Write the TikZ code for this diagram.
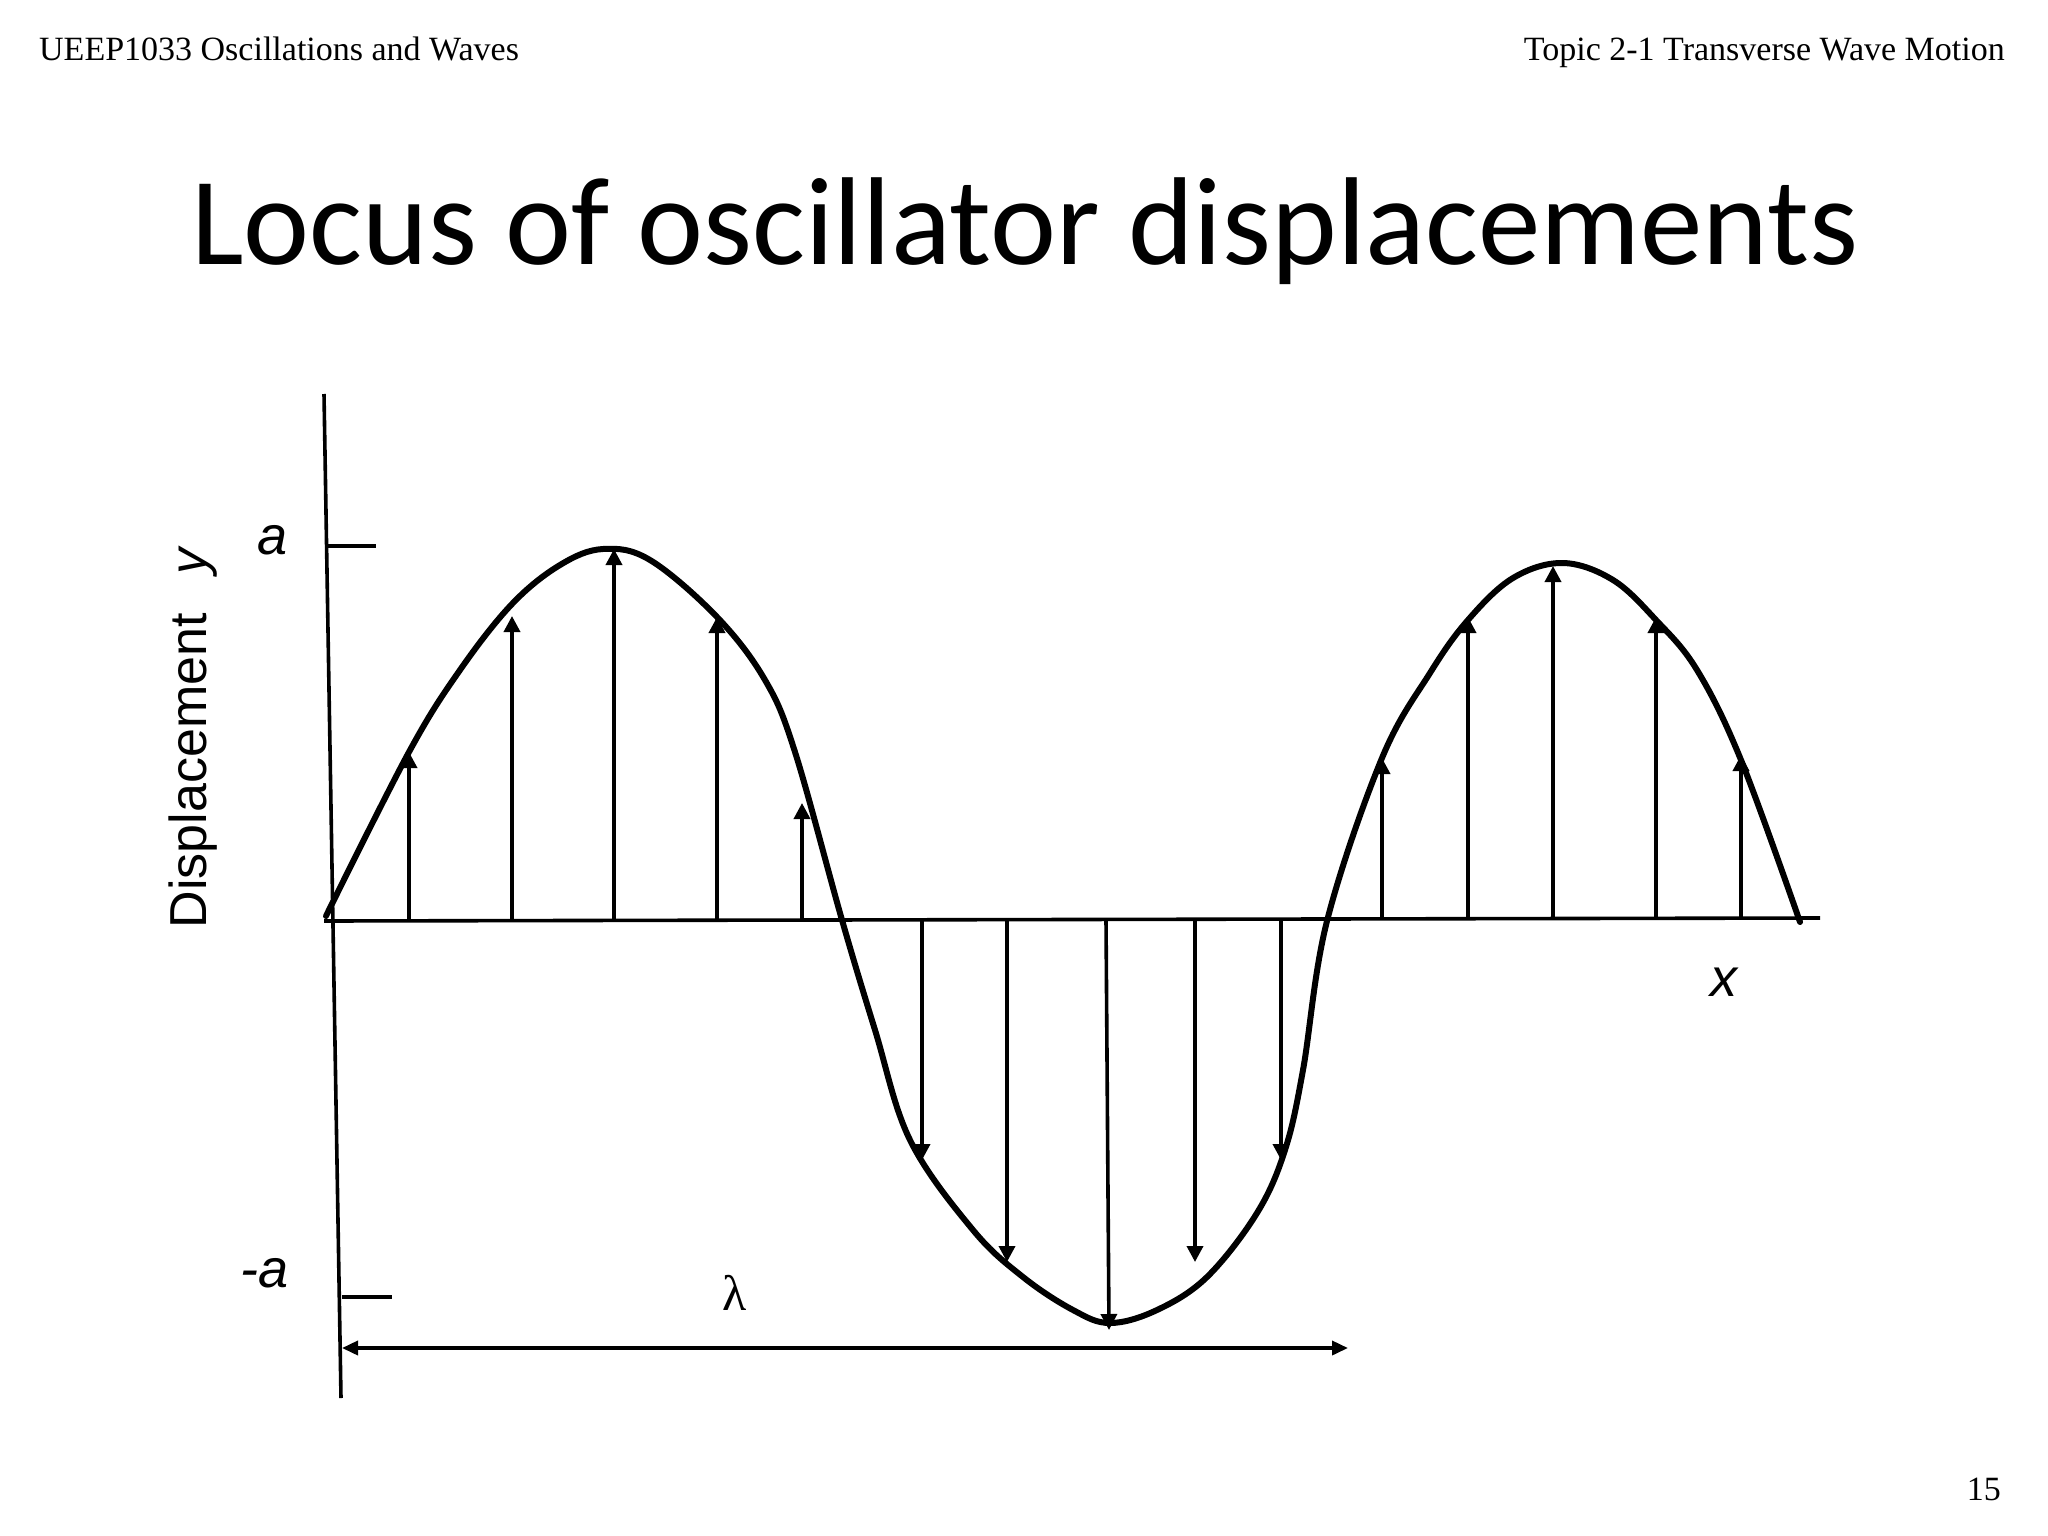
\documentclass[tikz,border=0pt]{standalone}
\usepackage{fontspec}
\setmainfont{Liberation Serif}
\newfontfamily\calibrifont{Carlito}
\newfontfamily\arialfont{Liberation Sans}
\usetikzlibrary{arrows.meta}
\begin{document}
\begin{tikzpicture}[x=1pt,y=-1pt,
  hdr/.style={inner sep=0pt, font=\fontsize{34}{40}\selectfont},
  titlestyle/.style={inner sep=0pt, font=\calibrifont\fontsize{125}{140}\selectfont},
  axisline/.style={line width=3.6pt},
  wave/.style={line width=6pt, line join=round, line cap=round},
  osc/.style={line width=3.6pt, -{Triangle[length=16pt,width=16pt]}},
  dimarrow/.style={line width=3.6pt, {Triangle[length=16pt,width=14pt]}-{Triangle[length=16pt,width=14pt]}},
  lbl/.style={inner sep=0pt, font=\arialfont\itshape\fontsize{54}{60}\selectfont},
]
\useasboundingbox (0,0) rectangle (2048,1536);
\fill[white] (0,0) rectangle (2048,1536);

% headers
\node[hdr, anchor=base west] (hl) at (39,61) {UEEP1033 Oscillations and Waves};
\node[hdr, anchor=base east] (hr) at (2005,61) {Topic 2-1 Transverse Wave Motion};
\node[hdr, anchor=base east] (pg) at (2001,1500) {15};
\node[titlestyle, anchor=base] (title) at (1025,264) {Locus of oscillator displacements};

% axes
\coordinate (ytop) at (324,394);
\coordinate (ybot) at (341,1398);
\coordinate (xl) at (324,921);
\coordinate (xr) at (1820,918);
\draw[axisline] (ytop) -- (ybot);
\draw[axisline] (xl) -- (xr);

% ticks
\coordinate (ta1) at (327,546); \coordinate (ta2) at (376,546);
\coordinate (tb1) at (342,1297); \coordinate (tb2) at (392,1297);
\draw[axisline] (ta1) -- (ta2);
\draw[axisline] (tb1) -- (tb2);

% labels
\node[lbl, anchor=center] (la) at (273,540) {a};
\node[lbl, anchor=center] (lma) at (265,1273) {-a};
\node[lbl, anchor=center] (lx) at (1724,982) {x};
\node[inner sep=0pt, font=\arialfont\fontsize{52}{60}\selectfont, rotate=90, anchor=center] (ly) at (193,737) {Displacement\hspace{0.75em}\textit{y}};
\node[inner sep=0pt, font=\fontsize{50}{60}\selectfont, anchor=center] (lam) at (735,1293) {λ};

% wavelength arrow
\coordinate (wl) at (342,1348);
\coordinate (wr) at (1348,1348);
\draw[dimarrow] (wl) -- (wr);

% wave
\draw[wave] plot[smooth, tension=0.6] coordinates {
 (326,916) (409,752) (460,670) (512,604) (560,565) (603,549) (650,560)
 (717,617) (765,680) (795,752) (842,920) (875,1030) (910,1140)
 (973,1230) (1023,1277) (1073,1310) (1110,1323) (1157,1310)
 (1207,1277) (1257,1213) (1285,1150) (1303,1070) (1327,921)
 (1382,758) (1430,673) (1468,620) (1513,578) (1563,563) (1613,580)
 (1656,620) (1697,670) (1741,760) (1800,922)};

% oscillator arrows
\foreach \i/\xb/\yb/\xt/\yt in {
  1/409/921/409/752, 2/512/921/512/616, 3/614/920/614/549, 4/717/920/717/617, 5/802/920/802/803,
  6/922/920/922/1160, 7/1007/920/1007/1262, 8/1106/920/1109/1330, 9/1195/919/1195/1262, 10/1281/919/1281/1160,
  11/1382/919/1382/758, 12/1468/919/1468/617, 13/1553/919/1553/566, 14/1656/918/1656/617, 15/1741/918/1741/755}{
  \coordinate (b\i) at (\xb,\yb);
  \coordinate (t\i) at (\xt,\yt);
  \draw[osc] (b\i) -- (t\i);
}
\end{tikzpicture}
\end{document}
